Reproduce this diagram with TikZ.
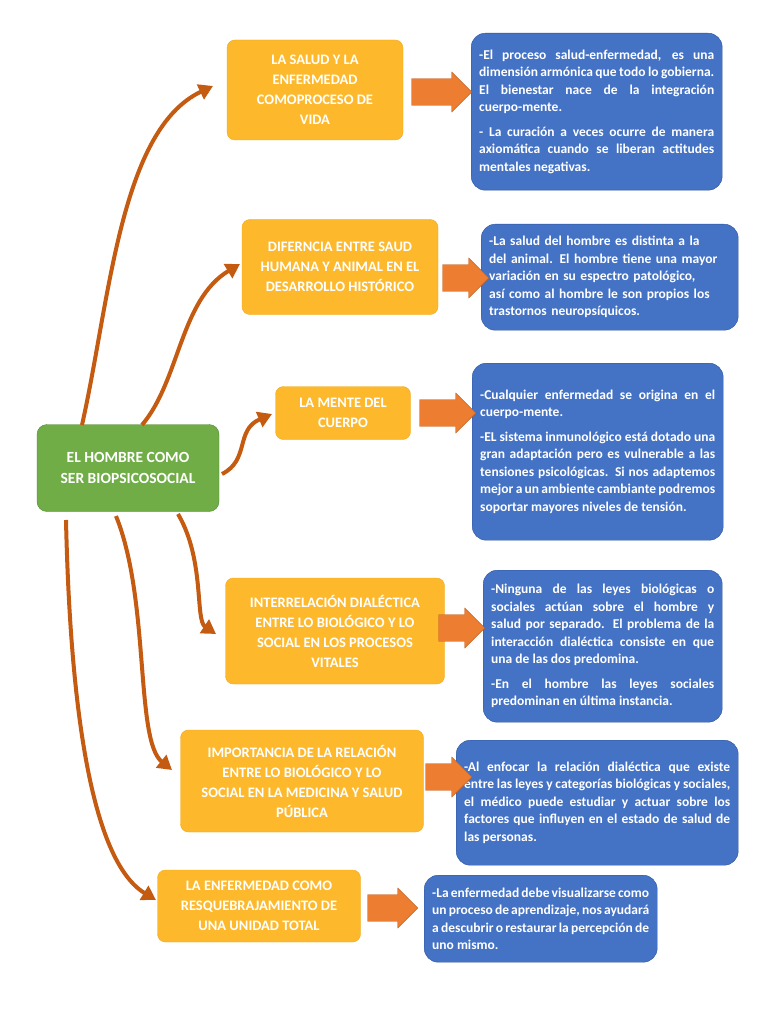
\documentclass[tikz,border=0pt]{standalone}
\usepackage{fontspec}
\setmainfont{Carlito}
\usetikzlibrary{shapes.arrows,arrows.meta}
\definecolor{og}{HTML}{FDB92B}
\definecolor{ogb}{HTML}{F3A81A}
\definecolor{bl}{HTML}{4472C4}
\definecolor{blb}{HTML}{2F55A0}
\definecolor{gr}{HTML}{70AD47}
\definecolor{grb}{HTML}{4E8A2E}
\definecolor{br}{HTML}{C55A11}
\definecolor{fa}{HTML}{ED7D31}
\begin{document}
\hyphenpenalty=10000 \exhyphenpenalty=10000
\begin{tikzpicture}[x=1pt,y=-1pt,
 obox/.style={draw=ogb,fill=og,rounded corners=8pt,text=white,font=\bfseries\fontsize{14.5}{20}\selectfont,align=center,inner sep=2pt},
 bbox/.style={draw=blb,fill=bl,rounded corners=14pt,text=white,font=\bfseries\fontsize{13.5}{17.5}\selectfont,align=justify,anchor=north west,inner xsep=8pt,inner ysep=7pt},
 fat/.style={single arrow,draw=fa!80!black,fill=fa,minimum height=#1,minimum width=40pt,single arrow head extend=3pt,inner sep=6pt,anchor=center},
 cur/.style={draw=br,line width=4pt,-{Triangle[length=14pt,width=16pt]}}]
\useasboundingbox (0,0) rectangle (768,1024);
\fill[white] (0,0) rectangle (768,1024);
\node[draw=grb,fill=gr,rounded corners=10pt,minimum width=182pt,minimum height=87pt,text=white,font=\bfseries\fontsize{15.5}{21}\selectfont,align=center] (c) at (128,468) {EL HOMBRE COMO\\SER BIOPSICOSOCIAL};
\node[obox,minimum width=176pt,minimum height=100pt] (o1) at (315,90) {LA SALUD Y LA\\ENFERMEDAD\\COMOPROCESO DE\\VIDA};
\node[obox,minimum width=196pt,minimum height=95pt] (o2) at (340,267) {DIFERNCIA ENTRE SAUD\\HUMANA Y ANIMAL EN EL\\DESARROLLO HISTÓRICO};
\node[obox,minimum width=135pt,minimum height=53pt] (o3) at (343,413) {LA MENTE DEL\\CUERPO};
\node[obox,minimum width=219pt,minimum height=106pt] (o4) at (335,631) {INTERRELACIÓN DIALÉCTICA\\ENTRE LO BIOLÓGICO Y LO\\SOCIAL EN LOS PROCESOS\\VITALES};
\node[obox,minimum width=243pt,minimum height=102pt] (o5) at (302,781) {IMPORTANCIA DE LA RELACIÓN\\ENTRE LO BIOLÓGICO Y LO\\SOCIAL EN LA MEDICINA Y SALUD\\PÚBLICA};
\node[obox,minimum width=203pt,minimum height=72pt] (o6) at (259,906) {LA ENFERMEDAD COMO\\RESQUEBRAJAMIENTO DE\\UNA UNIDAD TOTAL};
\node[bbox,text width=235pt,minimum height=157pt] (b1) at (471,33) {-El proceso salud-enfermedad, es una dimensión armónica que todo lo gobierna. El bienestar nace de la integración cuerpo-mente.\par\vspace{7pt}- La curación a veces ocurre de manera axiomática cuando se liberan actitudes mentales negativas.};
\node[bbox,align=left,text width=241pt,minimum height=106pt,inner ysep=5pt] (b2) at (481,224) {-La salud del hombre es distinta a la del animal. El hombre tiene una mayor variación en su espectro patológico, así como al hombre le son propios los trastornos neuropsíquicos.};
\node[bbox,text width=235pt,minimum height=177pt] (b3) at (472,363) {-Cualquier enfermedad se origina en el cuerpo-mente.\par\vspace{7pt}-EL sistema inmunológico está dotado una gran adaptación pero es vulnerable a las tensiones psicológicas. Si nos adaptemos mejor a un ambiente cambiante podremos soportar mayores niveles de tensión.};
\node[bbox,text width=223pt,minimum height=152pt] (b4) at (483,570) {-Ninguna de las leyes biológicas o sociales actúan sobre el hombre y salud por separado. El problema de la interacción dialéctica consiste en que una de las dos predomina.\par\vspace{7pt}-En el hombre las leyes sociales predominan en última instancia.};
\node[bbox,text width=266pt,minimum height=125pt] (b5) at (456,740) {-Al enfocar la relación dialéctica que existe entre las leyes y categorías biológicas y sociales, el médico puede estudiar y actuar sobre los factores que influyen en el estado de salud de las personas.};
\node[bbox,text width=217pt,minimum height=87pt] (b6) at (424,875) {-La enfermedad debe visualizarse como un proceso de aprendizaje, nos ayudará a descubrir o restaurar la percepción de uno mismo.};
\fill[white] (740,730) rectangle (768,870);
\node[fat=60pt] (a1) at (435,92) {};
\node[fat=46pt] (a2) at (459,278) {};
\node[fat=56pt] (a3) at (441,413) {};
\node[fat=46pt] (a4) at (455,628) {};
\node[fat=46pt] (a5) at (442,777) {};
\node[fat=50pt] (a6) at (386,908) {};
\coordinate (s1) at (82,425); \coordinate (e1) at (213,86);
\coordinate (s2) at (142,425); \coordinate (e2) at (240,264);
\coordinate (s3) at (222,474); \coordinate (e3) at (272,414);
\coordinate (s4) at (178,514); \coordinate (e4) at (216,634);
\coordinate (s5) at (116,516); \coordinate (e5) at (172,770);
\coordinate (s6) at (66,520); \coordinate (e6) at (156,900);
\draw[cur] (s1) .. controls (110,300) and (120,130) .. (e1);
\draw[cur] (s2) .. controls (180,380) and (180,300) .. (e2);
\draw[cur] (s3) .. controls (250,460) and (235,430) .. (e3);
\draw[cur] (s4) .. controls (205,560) and (195,620) .. (e4);
\draw[cur] (s5) .. controls (150,600) and (135,740) .. (e5);
\draw[cur] (s6) .. controls (70,700) and (90,860) .. (e6);
\end{tikzpicture}
\end{document}
